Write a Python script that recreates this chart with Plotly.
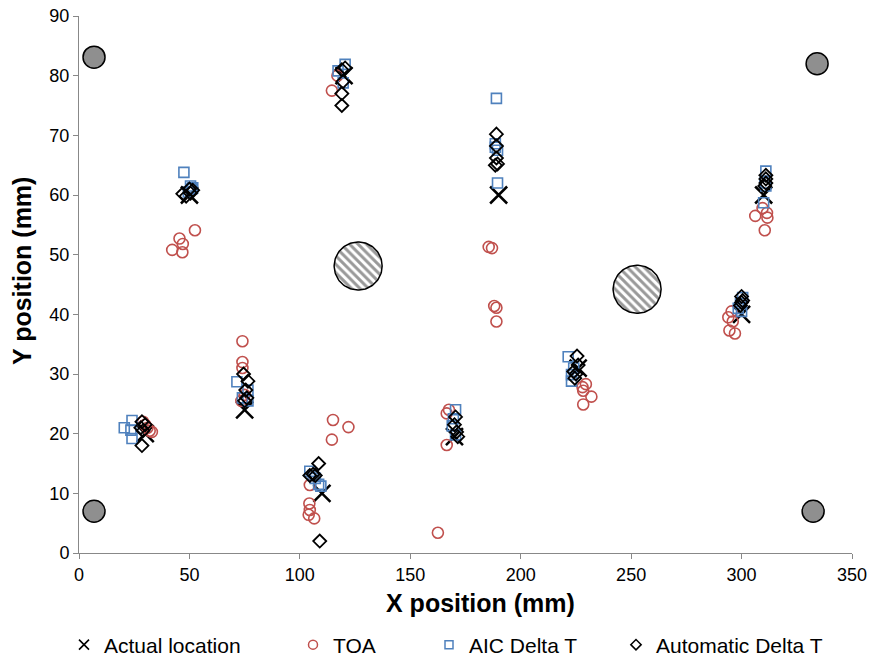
import numpy as np
import plotly.graph_objects as go

# Actual source locations
actual_x = [30, 50, 75, 110, 120, 170, 190, 226, 300, 310]
actual_y = [20, 60, 24, 10, 80, 19.5, 60, 31, 40, 60]

# Time-of-arrival estimates
toa_x = [29, 31, 32, 33, 30,
         52.5, 45.5, 47, 42.2, 46.8,
         74, 74, 74, 73.5, 75,
         115, 122, 114.5, 104.5, 104.3, 104.5, 104, 106.5,
         114.5, 117,
         185.5, 187, 188, 189, 189,
         167.5, 166.5, 166.5, 162.5,
         229.5, 228, 228.3, 232, 228.3,
         294, 295.5, 296, 294.5, 297,
         306.2, 309.5, 311.5, 311.7, 310.5]
toa_y = [22, 21, 20.5, 20.3, 21.5,
         54.1, 52.7, 51.8, 50.8, 50.4,
         35.5, 32, 31, 25.5, 26.5,
         22.3, 21.1, 19, 11.4, 8.3, 7.2, 6.4, 5.8,
         77.5, 80,
         51.3, 51.1, 41.4, 41.1, 38.8,
         24, 23.4, 18.1, 3.4,
         28.3, 27.8, 27.2, 26.2, 24.9,
         39.5, 40.5, 38.8, 37.3, 36.8,
         56.5, 57.8, 57, 56.2, 54.1]

# AIC delta-T estimates
aic_x = [20.5, 24, 23.5, 24,
         47.5, 50.5, 51, 49.5, 51.5,
         71.5, 76.5, 74, 76.5,
         104.5, 106, 108.5, 109.5, 107,
         120.5, 117.3, 119.6,
         189, 188.5, 189.5, 189.5, 188.5,
         170.5, 169.5, 169, 170.5,
         221.5, 223, 223, 224,
         300.5, 299.5, 298.5, 300,
         311, 310, 310.5, 311]
aic_y = [21, 22.2, 20.6, 19.2,
         63.8, 61.5, 61, 60.5, 61.2,
         28.7, 27.3, 26, 25.5,
         13.7, 13, 11.5, 11.2, 12.5,
         81.9, 80.8, 78.8,
         76.2, 68.6, 67.5, 62, 68,
         24, 22.5, 21.3, 19.8,
         32.9, 29.9, 28.8, 31,
         42.8, 41.8, 41, 40.5,
         64, 58.7, 62, 61.5]

# Automatic delta-T estimates
auto_x = [28.5, 30, 28, 29, 28.5,
          47, 50, 51.5, 50.5, 48.5,
          74.5, 76.5, 75.5, 76, 75,
          108.5, 104.5, 107, 106, 109,
          119, 120.5, 119.5, 119, 119,
          189, 189, 189, 189.5, 188.5,
          170.5, 170, 171, 171.5,
          225.5, 226, 224, 224.5, 225,
          300, 300.5, 299.5, 300,
          311, 311, 311, 310.5]
auto_y = [22, 21.5, 21, 20.5, 18,
          60.2, 61, 60.8, 60.3, 59.8,
          30, 28.8, 27.3, 26, 25.5,
          15, 13, 13, 13.2, 2,
          81, 81.3, 79, 77, 75,
          70.2, 68.2, 66.2, 65.2, 65,
          22.8, 21.5, 20.3, 19.5,
          33, 31.5, 30.4, 29.3, 30,
          43, 42.3, 41.5, 42,
          63.3, 62.7, 62, 61.5]

# Sensors at the plate corners
sensor_x = [6.8, 334.2, 6.8, 332.4]
sensor_y = [83.1, 82.0, 7.0, 7.0]

# Holes in the plate (centres in mm)
hole_x = [126.4, 252.7]
hole_y = [48.1, 44.2]

X_MAX, Y_MAX = 350, 90
M_L, M_R, M_T, M_B = 79, 25, 16, 109
PLOT_W, PLOT_H = 877 - M_L - M_R, 662 - M_T - M_B
HOLE_R_PX = 24
FONT = "Liberation Sans, Arial"

fig = go.Figure()

# hatched holes: circles drawn round in screen space
theta = np.linspace(0, 2 * np.pi, 120)
for cx, cy in zip(hole_x, hole_y):
    rx = HOLE_R_PX * X_MAX / PLOT_W
    ry = HOLE_R_PX * Y_MAX / PLOT_H
    fig.add_trace(go.Scatter(
        x=cx + rx * np.cos(theta), y=cy + ry * np.sin(theta),
        mode="lines", fill="toself", fillcolor="white",
        fillpattern=dict(shape="\\", size=6, solidity=0.5,
                         fgcolor="#333333", bgcolor="white"),
        line=dict(color="black", width=1.5),
        showlegend=False, hoverinfo="skip"))

fig.add_trace(go.Scatter(
    x=sensor_x, y=sensor_y, mode="markers",
    marker=dict(symbol="circle", size=22, color="#8f8f8f",
                line=dict(color="black", width=1.5)),
    showlegend=False, hoverinfo="skip"))

series = [
    ("Actual location", actual_x, actual_y, "x-thin-open", 17, "black", 2.5, 10, 1.6),
    ("TOA", toa_x, toa_y, "circle-open", 11, "#c0504d", 1.6, 9, 1.5),
    ("AIC Delta T", aic_x, aic_y, "square-open", 10, "#4f81bd", 1.6, 8, 1.5),
    ("Automatic Delta T", auto_x, auto_y, "diamond-open", 10, "black", 1.8, 8, 1.5),
]
legend_names = ["legend", "legend2", "legend3", "legend4"]
# left edge (px) of each legend box
legend_px = [64, 293, 429, 616]

for (name, xs, ys, sym, size, color, lw, lsize, llw), lg in zip(series, legend_names):
    fig.add_trace(go.Scatter(
        x=xs, y=ys, mode="markers", name=name, showlegend=False,
        marker=dict(symbol=sym, size=size, color=color, line=dict(color=color, width=lw))))
    # small legend swatch
    fig.add_trace(go.Scatter(
        x=[None], y=[None], mode="markers", name=name, legend=lg,
        marker=dict(symbol=sym, size=lsize, color=color, line=dict(color=color, width=llw))))

legend_font = dict(family=FONT, size=21, color="black")
for lg, px in zip(legend_names, legend_px):
    fig.update_layout({lg: dict(
        x=(px - M_L) / PLOT_W, y=(PLOT_H + M_T - 645) / PLOT_H, xanchor="left", yanchor="middle",
        orientation="h", font=legend_font, bgcolor="rgba(0,0,0,0)",
        itemwidth=30, tracegroupgap=0)})

axis_common = dict(
    showgrid=False, zeroline=False, showline=True, linecolor="#888888", linewidth=1,
    ticks="outside", ticklen=5, tickcolor="#888888", automargin=False,
    tickfont=dict(family=FONT, size=18, color="black"),
    mirror=False)

fig.update_xaxes(range=[0, X_MAX], dtick=50, tick0=0, **axis_common)
fig.update_yaxes(range=[0, Y_MAX], dtick=10, tick0=0, **axis_common)

# axis titles
title_font = dict(family=FONT, size=25, color="black")
fig.add_annotation(text="<b>X position (mm)</b>", xref="paper", yref="paper",
                   x=(480 - M_L) / PLOT_W, y=(PLOT_H + M_T - 603) / PLOT_H,
                   xanchor="center", yanchor="middle", showarrow=False, font=title_font)
fig.add_annotation(text="<b>Y position (mm)</b>", xref="paper", yref="paper",
                   x=(22 - M_L) / PLOT_W, y=(PLOT_H + M_T - 271) / PLOT_H,
                   xanchor="center", yanchor="middle", textangle=-90,
                   showarrow=False, font=title_font)

fig.update_layout(
    width=877, height=662,
    margin=dict(l=M_L, r=M_R, t=M_T, b=M_B, autoexpand=False),
    plot_bgcolor="white", paper_bgcolor="white",
)

fig.write_html("out.html")
